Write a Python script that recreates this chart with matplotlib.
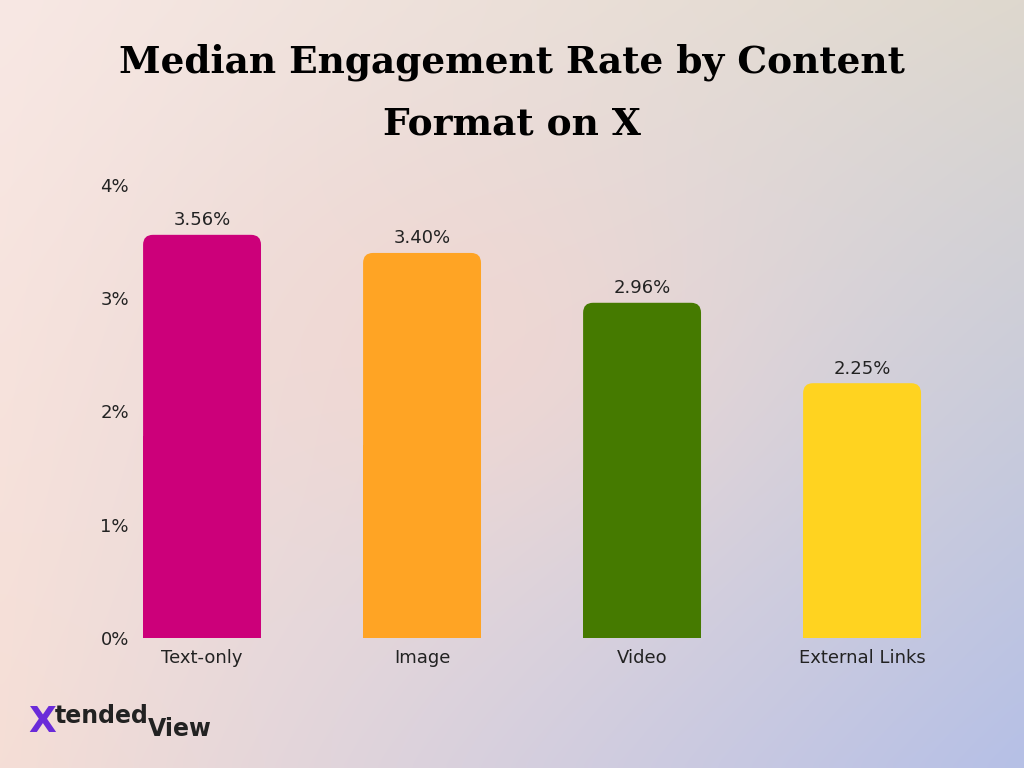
import matplotlib
matplotlib.use("Agg")
import matplotlib.pyplot as plt
import numpy as np
from matplotlib.patches import FancyBboxPatch, Rectangle

categories = ["Text-only", "Image", "Video", "External Links"]
values = [3.56, 3.40, 2.96, 2.25]
labels = ["3.56%", "3.40%", "2.96%", "2.25%"]
colors = ["#cc007a", "#ffa424", "#457a00", "#ffd320"]
yticks = [0, 1, 2, 3, 4]
yticklabels = ["0%", "1%", "2%", "3%", "4%"]

fig = plt.figure(figsize=(10.24, 7.68), dpi=100)

# gradient background
h, w = 96, 128
yy, xx = np.mgrid[0:1:h*1j, 0:1:w*1j]
tl = np.array([248, 232, 228]) / 255
tr = np.array([222, 216, 206]) / 255
bl = np.array([245, 222, 214]) / 255
br = np.array([182, 192, 230]) / 255
c = np.array([246, 214, 206]) / 255
img = (tl*((1-xx)*(1-yy))[..., None] + tr*(xx*(1-yy))[..., None]
       + bl*((1-xx)*yy)[..., None] + br*(xx*yy)[..., None])
d = np.exp(-(((xx-0.45)**2 + (yy-0.45)**2) / 0.08))[..., None]
img = img*(1-d*0.6) + c*d*0.6
bg = fig.add_axes([0, 0, 1, 1])
bg.imshow(img, aspect="auto", extent=[0, 1, 0, 1], interpolation="bicubic")
bg.axis("off")

ax = fig.add_axes([140/1024, 1-638/768, (925-140)/1024, (638-185)/768])
ax.patch.set_alpha(0)
x = np.arange(len(categories))
ax.set_xlim(-0.282, 3.286)
ax.set_ylim(0, 4)
bw = 0.536
for xi, v, col, lab in zip(x, values, colors, labels):
    ax.add_patch(FancyBboxPatch((xi-bw/2, 0), bw, v,
                 boxstyle="round,pad=0,rounding_size=0.045",
                 mutation_aspect=1.96, fc=col, ec="none"))
    ax.add_patch(Rectangle((xi-bw/2, 0), bw, v/2, fc=col, ec="none"))
    ax.text(xi, v+0.05, lab, ha="center", va="bottom", fontsize=13, color="#222222")
ax.set_xticks(x)
ax.set_xticklabels(categories, fontsize=13)
ax.set_yticks(yticks)
ax.set_yticklabels(yticklabels, fontsize=13)
ax.tick_params(length=0, pad=8, colors="#222222")
for s in ax.spines.values():
    s.set_visible(False)

fig.text(0.5, 1-62/768, "Median Engagement Rate by Content", ha="center", va="center",
         fontsize=27, fontweight="bold", family="DejaVu Serif", color="black")
fig.text(0.5, 1-124/768, "Format on X", ha="center", va="center",
         fontsize=27, fontweight="bold", family="DejaVu Serif", color="black")

# logo
fig.text(28/1024, 1-722/768, "X", fontsize=26, fontweight="bold", color="#6a2bd9", va="center")
fig.text(55/1024, 1-716/768, "tended", fontsize=17, fontweight="bold", color="#222222", va="center")
fig.text(148/1024, 1-729/768, "View", fontsize=17, fontweight="bold", color="#222222", va="center")

fig.savefig("out.png", dpi=100)
